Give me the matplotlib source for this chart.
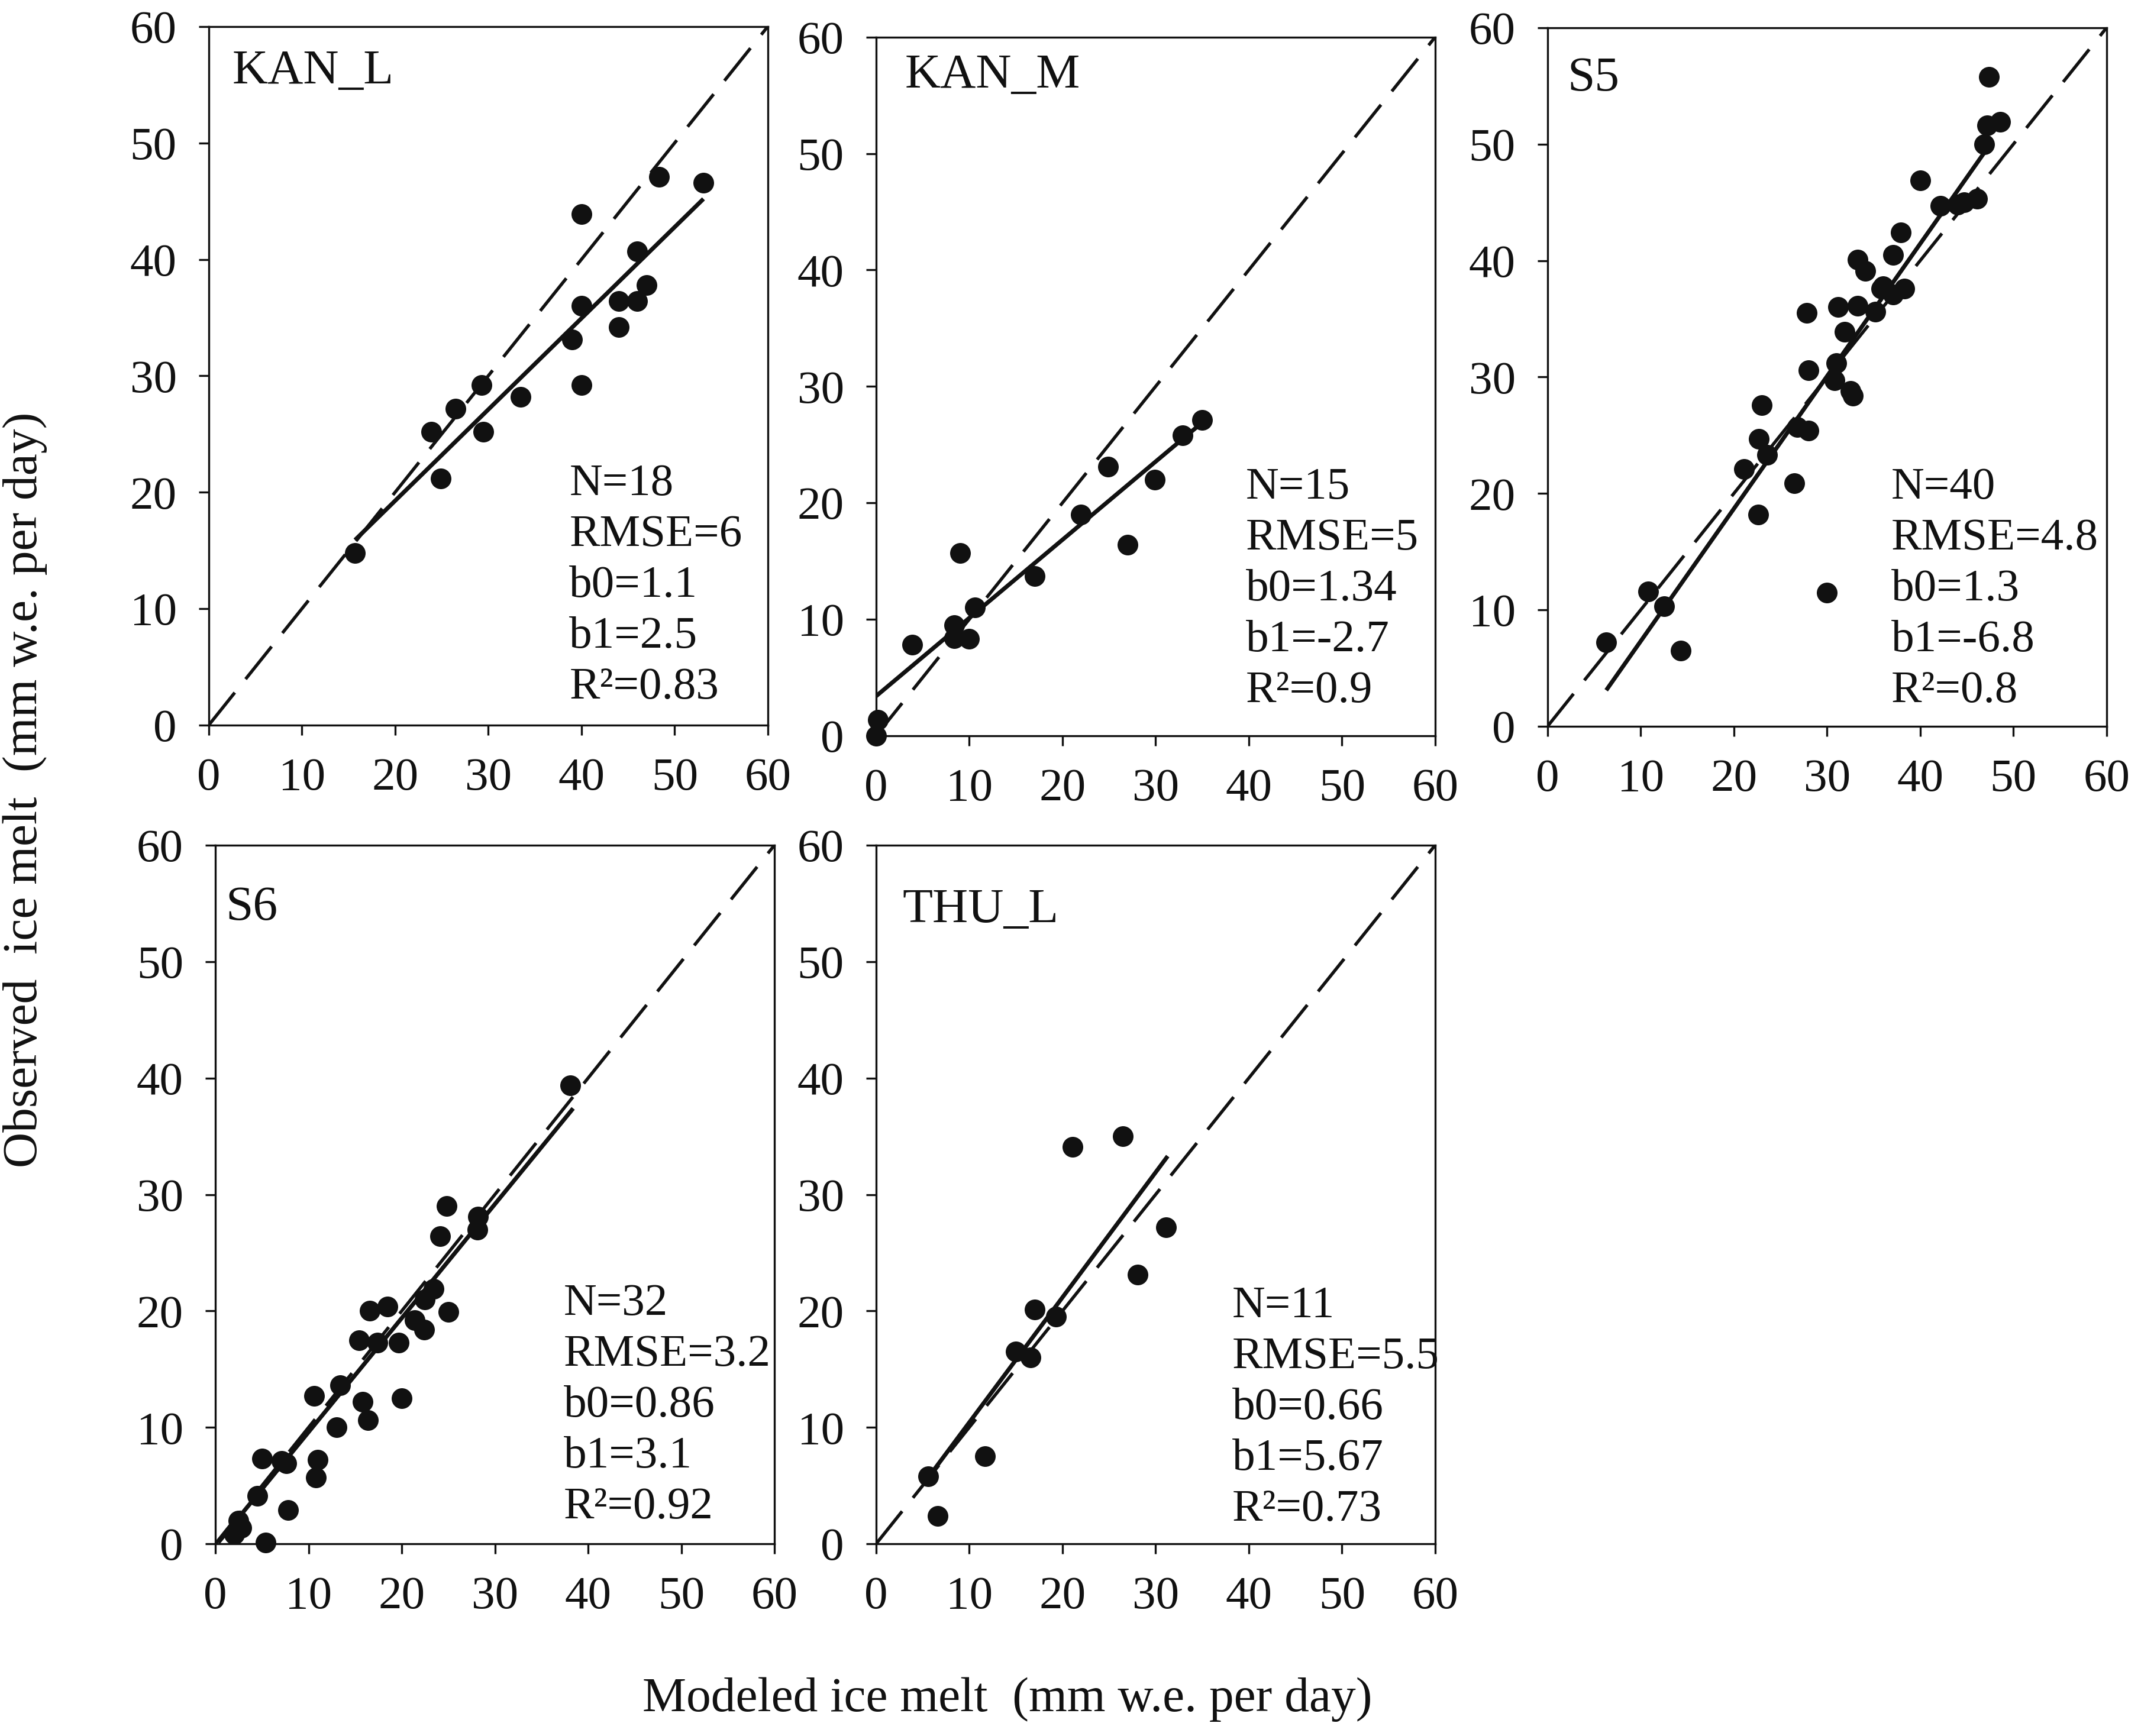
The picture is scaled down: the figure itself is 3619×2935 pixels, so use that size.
import matplotlib.pyplot as plt

plt.rcParams["font.family"] = ["Liberation Serif", "DejaVu Serif"]

ticks = [0, 10, 20, 30, 40, 50, 60]

# KAN_L
kanl_mod = [15.7, 24.9, 23.9, 26.5, 29.3, 29.5, 33.5, 39.0, 40.0, 40.0, 40.0,
            44.0, 44.0, 46.0, 47.0, 46.0, 48.3, 53.1]
kanl_obs = [14.8, 21.2, 25.2, 27.2, 29.2, 25.2, 28.2, 33.1, 29.2, 36.0, 43.9,
            34.2, 36.4, 36.4, 37.8, 40.7, 47.1, 46.6]
kanl_fit_x = [15.7, 53.1]
kanl_fit_y = [15.9, 45.2]
kanl_stats = ["N=18", "RMSE=6", "b0=1.1", "b1=2.5", "R\u00b2=0.83"]

# KAN_M
kanm_mod = [0.0, 0.2, 3.9, 8.4, 8.4, 10.0, 10.6, 9.0, 17.0, 22.0, 24.9, 27.0,
            29.9, 32.9, 35.0]
kanm_obs = [0.0, 1.35, 7.8, 8.4, 9.5, 8.3, 11.0, 15.7, 13.7, 19.0, 23.1, 16.4,
            22.0, 25.8, 27.1]
kanm_fit_x = [0.0, 35.0]
kanm_fit_y = [3.4, 26.9]
kanm_stats = ["N=15", "RMSE=5", "b0=1.34", "b1=-2.7", "R\u00b2=0.9"]

# S5
s5_mod = [47.4, 47.2, 48.6, 46.9, 40.0, 42.2, 44.7, 46.1, 37.9, 37.1, 33.3,
          34.1, 36.0, 37.1, 38.3, 35.2, 31.2, 33.3, 27.8, 31.9, 31.0, 30.8,
          28.0, 32.8, 23.0, 26.8, 28.0, 22.7, 23.6, 21.1, 26.5, 22.6, 30.0,
          10.8, 12.5, 6.3, 14.3, 32.5, 44.0, 35.8]
s5_obs = [55.8, 51.6, 51.9, 50.0, 46.9, 44.7, 45.0, 45.3, 42.4, 40.5, 40.1,
          39.1, 37.8, 37.1, 37.6, 35.6, 36.0, 36.1, 35.5, 33.9, 31.2, 29.7,
          30.6, 28.4, 27.6, 25.7, 25.4, 24.7, 23.3, 22.1, 20.9, 18.2, 11.5,
          11.6, 10.3, 7.2, 6.5, 28.8, 44.8, 37.6]
s5_fit_x = [6.3, 46.9]
s5_fit_y = [3.1, 49.3]
s5_stats = ["N=40", "RMSE=4.8", "b0=1.3", "b1=-6.8", "R\u00b2=0.8"]

# S6
s6_mod = [38.1, 24.8, 24.1, 28.2, 28.1, 23.4, 22.5, 16.6, 18.5, 25.0, 21.4,
          22.4, 15.4, 17.4, 19.7, 13.4, 10.6, 15.8, 16.4, 20.0, 13.0, 5.0,
          7.1, 11.0, 10.8, 4.5, 7.8, 2.5, 2.0, 5.4, 7.6, 2.8]
s6_obs = [39.4, 29.0, 26.4, 28.1, 27.0, 21.9, 21.0, 20.0, 20.4, 19.9, 19.2,
          18.4, 17.5, 17.3, 17.3, 13.6, 12.7, 12.2, 10.6, 12.5, 10.0, 7.3,
          7.1, 7.2, 5.7, 4.1, 2.9, 2.0, 0.8, 0.1, 6.9, 1.4]
s6_fit_x = [0.3, 38.4]
s6_fit_y = [0.1, 37.4]
s6_stats = ["N=32", "RMSE=3.2", "b0=0.86", "b1=3.1", "R\u00b2=0.92"]

# THU_L
thul_mod = [5.6, 6.6, 11.7, 15.0, 16.6, 17.0, 19.3, 21.1, 26.5, 28.1, 31.1]
thul_obs = [5.8, 2.4, 7.5, 16.5, 16.0, 20.1, 19.5, 34.1, 35.0, 23.1, 27.2]
thul_fit_x = [5.6, 31.3]
thul_fit_y = [5.7, 33.3]
thul_stats = ["N=11", "RMSE=5.5", "b0=0.66", "b1=5.67", "R\u00b2=0.73"]

panels = [
    ("KAN_L", kanl_mod, kanl_obs, kanl_fit_x, kanl_fit_y, kanl_stats),
    ("KAN_M", kanm_mod, kanm_obs, kanm_fit_x, kanm_fit_y, kanm_stats),
    ("S5", s5_mod, s5_obs, s5_fit_x, s5_fit_y, s5_stats),
    ("S6", s6_mod, s6_obs, s6_fit_x, s6_fit_y, s6_stats),
    ("THU_L", thul_mod, thul_obs, thul_fit_x, thul_fit_y, thul_stats),
]

# axes boxes in figure fractions: left, bottom, width, height
boxes = [
    (0.0975, 0.5823, 0.2611, 0.4024),
    (0.4092, 0.5762, 0.2611, 0.4024),
    (0.7228, 0.5816, 0.2611, 0.4024),
    (0.1006, 0.1107, 0.2611, 0.4024),
    (0.4092, 0.1107, 0.2611, 0.4024),
]
title_pos = [(2.5, 56.1), (3.1, 56.7), (2.1, 55.6), (1.1, 54.6), (2.8, 54.4)]
stats_pos = [(38.7, 20.7), (39.7, 21.3), (36.9, 20.5), (37.4, 20.6), (38.2, 20.4)]

fig = plt.figure(figsize=(3619 / 300, 2935 / 300), dpi=300)

for (name, xs, ys, fx, fy, stats), box, tp, sp in zip(panels, boxes, title_pos, stats_pos):
    ax = fig.add_axes(box)
    # 1:1 line
    ax.plot([0, 60], [0, 60], color="#111111", lw=1.3, linestyle=(0, (13, 5.4)))
    # fitted line
    ax.plot(fx, fy, color="#111111", lw=1.7, solid_capstyle="butt")
    ax.plot(xs, ys, "o", color="#111111", markersize=8.4, markeredgewidth=0,
            clip_on=False)
    ax.set_xlim(0, 60)
    ax.set_ylim(0, 60)
    ax.set_xticks(ticks)
    ax.set_yticks(ticks)
    ax.tick_params(direction="out", length=4, width=0.8, labelsize=19,
                   pad=9, colors="#111111")
    for s in ax.spines.values():
        s.set_linewidth(0.8)
        s.set_color("#111111")
    ax.text(tp[0], tp[1], name, fontsize=20, ha="left", va="center",
            color="#111111")
    for i, line in enumerate(stats):
        ax.text(sp[0], sp[1] - i * 4.37, line, fontsize=18.5, ha="left",
                va="center", color="#111111")

fig.text(0.4706, 0.021, "Modeled ice melt  (mm w.e. per day)", fontsize=20,
         ha="center", va="center", color="#111111")
fig.text(0.0116, 0.545, "Observed  ice melt  (mm w.e. per day)", fontsize=20,
         ha="center", va="center", rotation=90, color="#111111")

fig.savefig("out.png", dpi=300)
